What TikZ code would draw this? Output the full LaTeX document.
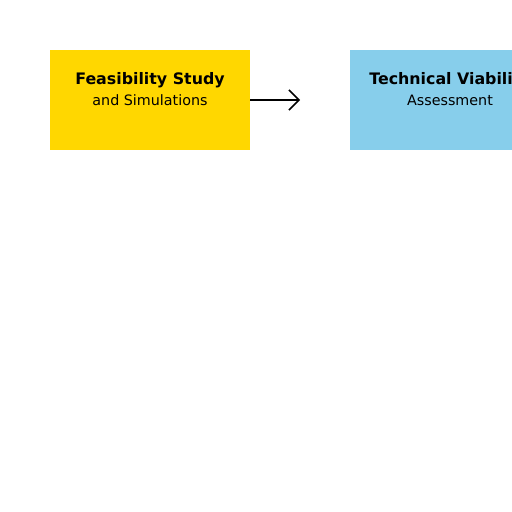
\documentclass[tikz,border=0pt]{standalone}
\usepackage{fontspec}
\setmainfont{DejaVu Sans}
\usetikzlibrary{arrows.meta}
\definecolor{gold}{HTML}{FFD700}
\definecolor{skyblue}{HTML}{87CEEB}
\begin{document}
\begin{tikzpicture}[x=0.72pt,y=-0.72pt,
    box/.style={minimum width=144pt,minimum height=72pt,inner sep=0pt,outer sep=0pt},
    title/.style={font=\bfseries\fontsize{11.4}{13}\selectfont,inner sep=0pt},
    sub/.style={font=\fontsize{10.3}{12}\selectfont,inner sep=0pt}]
        \clip (0,0) rectangle (512,512);
        % 设置节点
        \node[box,fill=gold] (feas) at (150,100) {};
        \node[box,fill=skyblue] (tech) at (450,100) {};
        \node[title] (feasT) at (150,80.5) {Feasibility Study};
        \node[sub] (feasS) at (150,100) {and Simulations};
        \node[title] (techT) at (450,80.5) {Technical Viability};
        \node[sub] (techS) at (450,100) {Assessment};
        \coordinate (tip) at (300,100);

        % 画箭头
        \draw[-{Straight Barb[length=7.2pt,width=14.4pt]},line width=1.08pt] (feas) -- (tip);
    \end{tikzpicture}
\end{document}
